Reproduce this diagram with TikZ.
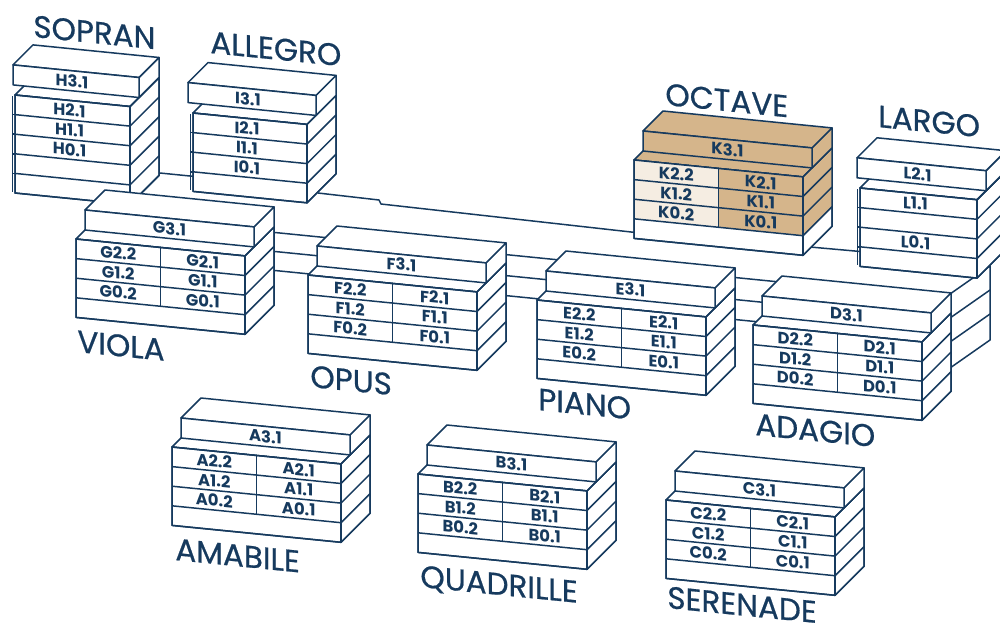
\documentclass[tikz,border=0pt]{standalone}
\usepackage{fontspec}
\setmainfont{Poppins}
\newfontfamily\titlefont[FakeBold=0.6]{Poppins}
\usetikzlibrary{calc}
\definecolor{CampusNavy}{RGB}{22,58,94}
\definecolor{OctaveTan}{RGB}{213,181,139}
\definecolor{OctaveCream}{RGB}{245,237,226}

\tikzset{
	wall/.style={draw=CampusNavy, line width=0.75pt, line join=round, fill=white},
	edge/.style={draw=CampusNavy, line width=0.75pt, line join=round},
	upperface/.style={}, lowertop/.style={}, leftcells/.style={},
	rightcells/.style={}, sidecells/.style={},
	title/.style={text=CampusNavy, font=\titlefont\fontsize{15.5}{16}\selectfont,
		inner sep=0pt, anchor=base west, yslant=-0.1},
	lbl/.style={text=CampusNavy, font=\bfseries\fontsize{8.2}{9}\selectfont,
		inner sep=0pt, yslant=-0.1}
}

% sizes of one house (pixels)
\newcommand{\rowh}{19.6}
\newcommand{\slp}{0.1}
\newcommand{\deep}{29}
\newcommand{\stepin}{9}
\newcommand{\uph}{20}
\newcommand{\upd}{20}

% #1 x, #2 y of front-left top corner of the lower part, #3 width, #4 rows, #5 shift of the upper part
\newcommand{\bldg}[5]{%
	\pgfmathsetmacro\bxl{#1}%
	\pgfmathsetmacro\byl{#2}%
	\pgfmathsetmacro\bxr{#1+#3}%
	\pgfmathsetmacro\byr{#2+\slp*#3}%
	\pgfmathsetmacro\bxm{#1+#3/2}%
	\pgfmathsetmacro\bym{#2+\slp*#3/2}%
	\pgfmathsetmacro\bhl{#4*\rowh}%
	\pgfmathsetmacro\bhf{3*\rowh}%
	\pgfmathtruncatemacro\bnr{#4-1}%
	\pgfmathsetmacro\bux{#1+\stepin+(#5)}%
	\pgfmathsetmacro\buy{#2-\stepin+\slp*(#5)-\uph}%
	\pgfmathsetmacro\bvx{#1+#3+\stepin}%
	\pgfmathsetmacro\bvy{#2-\stepin+\slp*#3-\uph}%
	\path[wall] (\bxr,\byr) -- ++(\deep,-\deep) -- ++(0,\bhl) -- ++(-\deep,\deep) -- cycle;
	\path[sidecells] (\bxr,\byr) -- ++(\deep,-\deep) -- ++(0,\bhf) -- ++(-\deep,\deep) -- cycle;
	\path[wall, lowertop] (\bxl,\byl) -- (\bxr,\byr) -- ++(\deep,-\deep) -- ({\bxl+\deep},{\byl-\deep}) -- cycle;
	\path[wall] (\bxl,\byl) -- (\bxr,\byr) -- ++(0,\bhl) -- (\bxl,{\byl+\bhl}) -- cycle;
	\path[leftcells] (\bxl,\byl) -- (\bxm,\bym) -- ++(0,\bhf) -- (\bxl,{\byl+\bhf}) -- cycle;
	\path[rightcells] (\bxm,\bym) -- (\bxr,\byr) -- ++(0,\bhf) -- (\bxm,{\bym+\bhf}) -- cycle;
	\draw[edge] (\bxl,\byl) -- (\bxr,\byr) -- ++(\deep,-\deep) -- ++(0,\bhl)
		-- ++(-\deep,\deep) -- (\bxl,{\byl+\bhl}) -- cycle;
	\draw[edge] (\bxr,\byr) -- ++(0,\bhl);
	\foreach \i in {1,...,\bnr}
		\draw[edge] (\bxl,{\byl+\i*\rowh}) -- (\bxr,{\byr+\i*\rowh}) -- ++(\deep,-\deep);
	% upper part
	\path[wall, upperface] (\bvx,\bvy) -- ++(\upd,-\upd) -- ++(0,\uph) -- ++(-\upd,\upd) -- cycle;
	\path[wall, upperface] (\bux,\buy) -- (\bvx,\bvy) -- ++(\upd,-\upd) -- ({\bux+\upd},{\buy-\upd}) -- cycle;
	\path[wall, upperface] (\bux,\buy) -- (\bvx,\bvy) -- ++(0,\uph) -- (\bux,{\buy+\uph}) -- cycle;
}

% house with two columns of rooms
\newcommand{\splitblock}[3]{%
	\bldg{#2}{#3}{169}{4}{0}%
	\draw[edge] (\bxm,\bym) -- ++(0,\bhf);
	\node[lbl] (#1-3-1) at ({(\bux+\bvx)/2},{(\buy+\bvy)/2+\uph/2}) {#13.1};
	\foreach \r/\k in {0/2,1/1,2/0}{%
		\node[lbl] (#1-\k-2) at ({\bxl+42.25},{\byl+\slp*42.25+(\r+0.5)*\rowh}) {#1\k.2};
		\node[lbl] (#1-\k-1) at ({\bxl+126.75},{\byl+\slp*126.75+(\r+0.5)*\rowh}) {#1\k.1};
	}%
}

% house with one column of rooms
\newcommand{\singleblock}[8]{%
	\bldg{#2}{#3}{#4}{#5}{#6}%
	\draw[edge] ({\bxl-2.5},{\byl+1}) -- ({\bxl-2.5},{\byl+\bhl-1});
	\foreach \i in {1,...,\bnr}
		\draw[edge] ({\bxl-2.5},{\byl+\i*\rowh}) -- (\bxl,{\byl+\i*\rowh});
	\node[lbl] (#1-up) at ({(\bux+\bvx)/2-4},{(\buy+\bvy)/2+\uph/2}) {#7};
	\foreach \r/\t in {#8}
		\node[lbl] (#1-\r) at ({\bxl+#4/2-3},{\byl+\slp*(#4/2-3)+(\r+0.5)*\rowh}) {\t};
}

\begin{document}
\begin{tikzpicture}[x=0.5pt, y=-0.5pt]
	\useasboundingbox (0,0) rectangle (1000,632);
	\clip (0,0) rectangle (1000,632);

	% links between the houses
	\draw[edge] (150,172) -- (200,177);
	\draw[edge] (318,193) -- (379,200) -- (381,204) -- (640,233);
	\draw[edge] (810,247) -- (866,252);
	\foreach \y in {235,254,273}
		\draw[edge] (268,{\y-3.2}) -- (332,{\y+3.2});
	\foreach \y in {257,278,298}
		\draw[edge] (503,{\y-2.7}) -- (562,{\y+3.2});
	\foreach \y in {278,300,320}
		\draw[edge] (730,{\y-1}) -- (776,{\y+3.6});
	\path[wall] (950,294) -- (990,266) -- (990,340) -- (950,368) -- cycle;
	\draw[edge] (950,318) -- (990,290);
	\draw[edge] (950,342) -- (990,314);

	% back row
	\singleblock{H}{15}{95}{115}{5}{-11}{H3.1}{0/H2.1,1/H1.1,2/H0.1}
	\singleblock{I}{193}{113}{114}{4}{-14}{I3.1}{0/I2.1,1/I1.1,2/I0.1}
	\begin{scope}[upperface/.style={fill=OctaveTan}, lowertop/.style={fill=OctaveTan},
		leftcells/.style={fill=OctaveCream}, rightcells/.style={fill=OctaveTan},
		sidecells/.style={fill=OctaveTan}]
		\splitblock{K}{634}{160}
	\end{scope}
	\singleblock{L}{860}{188}{117}{4}{-12}{L2.1}{0/L1.1,2/L0.1}

	% middle row
	\splitblock{G}{76}{239}
	\splitblock{F}{308}{275}
	\splitblock{E}{537}{300}
	\splitblock{D}{753}{325}

	% front row
	\splitblock{A}{172}{447}
	\splitblock{B}{418}{474}
	\splitblock{C}{666}{500}

	% names
	\node[title] (tSopran) at (33,37) {SOPRAN};
	\node[title] (tAllegro) at (210,53) {ALLEGRO};
	\node[title] (tOctave) at (665,105) {OCTAVE};
	\node[title] (tLargo) at (878,127) {LARGO};
	\node[title] (tViola) at (77,352) {VIOLA};
	\node[title] (tOpus) at (310,387) {OPUS};
	\node[title] (tPiano) at (538,410) {PIANO};
	\node[title] (tAdagio) at (755,435) {ADAGIO};
	\node[title] (tAmabile) at (175,560) {AMABILE};
	\node[title] (tQuadrille) at (420,587) {QUADRILLE};
	\node[title] (tSerenade) at (667,608) {SERENADE};
\end{tikzpicture}
\end{document}
